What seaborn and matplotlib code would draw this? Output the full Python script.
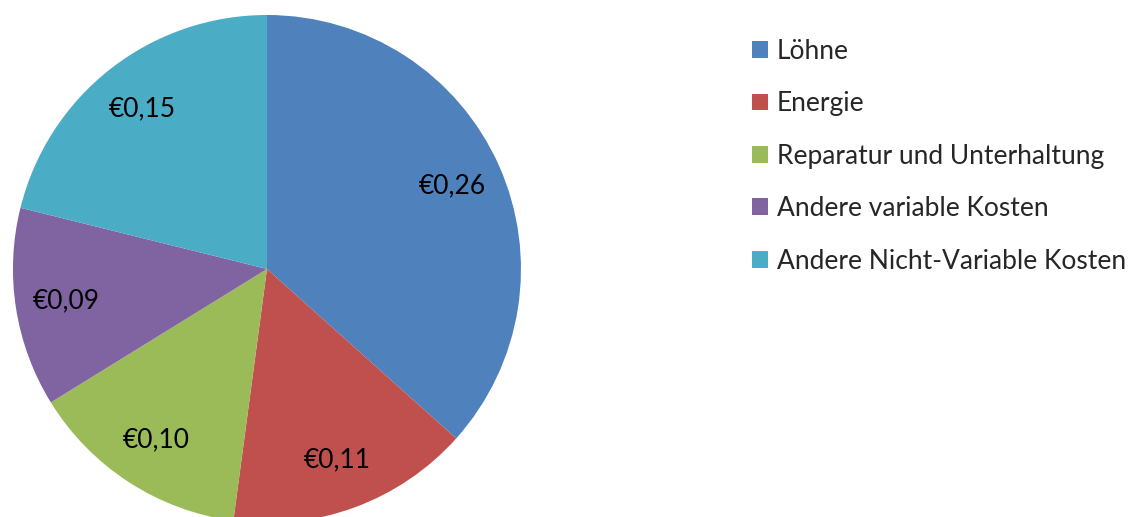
import matplotlib
matplotlib.use("Agg")
import matplotlib.pyplot as plt
import seaborn as sns

categories = [
    "Löhne",
    "Energie",
    "Reparatur und Unterhaltung",
    "Andere variable Kosten",
    "Andere Nicht-Variable Kosten",
]
costs = [0.26, 0.11, 0.10, 0.09, 0.15]
colors = ["#4F81BD", "#C0504D", "#9BBB59", "#8064A2", "#4BACC6"]

sns.set_theme(style="white")
plt.rcParams["font.family"] = ["Lato", "DejaVu Sans"]

palette = sns.color_palette(colors)
total = sum(costs)

fig = plt.figure(figsize=(11.37, 5.17), dpi=100)
ax = fig.add_axes([0.0114, -0.0116, 0.4468, 0.9826])
wedges, texts, autotexts = ax.pie(
    costs,
    colors=palette,
    startangle=90,
    counterclock=False,
    autopct=lambda p: "€" + f"{p * total / 100:.2f}".replace(".", ","),
    pctdistance=0.8,
    wedgeprops={"linewidth": 0},
    textprops={"fontsize": 19, "color": "black"},
)
ax.set_xlim(-1, 1)
ax.set_ylim(-1, 1)

fig.legend(
    wedges,
    categories,
    loc="upper left",
    bbox_to_anchor=(752 / 1137, 0.925),
    frameon=False,
    fontsize=19,
    borderpad=0,
    borderaxespad=0,
    handlelength=0.6,
    handleheight=0.6,
    handletextpad=0.35,
    labelspacing=1.04,
)

fig.savefig("out.png", dpi=100)
